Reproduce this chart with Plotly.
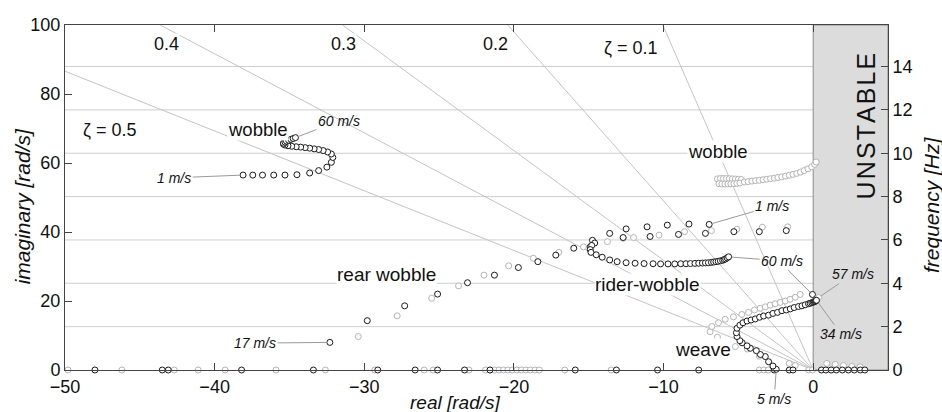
import math
import plotly.graph_objects as go

# ---------------- data ----------------
zeta_values = [0.1, 0.2, 0.3, 0.4, 0.5]
zeta_labels = ["ζ = 0.1", "0.2", "0.3", "0.4", "ζ = 0.5"]
zeta_label_re = [-12.2, -21.2, -31.4, -43.2, -47.0]
zeta_label_im = [93.3, 94.5, 94.5, 94.5, 69.6]

freq_ticks_hz = [0, 2, 4, 6, 8, 10, 12, 14]
real_ticks = [-50, -40, -30, -20, -10, 0]
imag_ticks = [0, 20, 40, 60, 80, 100]

# wobble, configuration A (black), 1 m/s -> 60 m/s
wobble_a_re = [-38.1, -37.45, -36.8, -36.05, -35.3, -34.5, -33.65, -33.05, -32.5, -32.2, -32.1,
               -32.2, -32.45, -32.75, -33.05, -33.35, -33.65, -33.95, -34.25, -34.55, -34.85,
               -35.1, -35.3, -35.4, -35.4, -35.3, -35.2, -35.05, -34.9, -34.75, -34.6]
wobble_a_im = [56.5, 56.5, 56.5, 56.5, 56.5, 56.6, 57.1, 57.8, 58.8, 60.2, 61.6,
               62.6, 63.2, 63.6, 63.9, 64.1, 64.3, 64.45, 64.6, 64.7, 64.85,
               65.0, 65.2, 65.45, 65.75, 66.05, 66.35, 66.6, 66.85, 67.1, 67.35]

# wobble, configuration B (grey)
wobble_b_re = [-6.4, -6.2, -6.0, -5.8, -5.6, -5.4, -5.2, -5.0, -4.8,
               -6.3, -6.1, -5.9, -5.7, -5.5, -5.3, -5.1, -4.9,
               -4.6, -4.35, -4.1, -3.85, -3.6, -3.35, -3.1, -2.85, -2.6, -2.35, -2.1, -1.85,
               -1.6, -1.35, -1.1, -0.85, -0.6, -0.35, -0.1, 0.1, 0.2]
wobble_b_im = [55.4, 55.5, 55.5, 55.5, 55.45, 55.4, 55.35, 55.3, 55.2,
               54.0, 53.9, 53.9, 53.9, 53.95, 54.0, 54.1, 54.2,
               54.5, 54.6, 54.75, 54.9, 55.0, 55.15, 55.3, 55.45, 55.6, 55.8, 56.0, 56.2,
               56.45, 56.7, 57.0, 57.35, 57.8, 58.3, 58.9, 59.6, 60.3]

# rear wobble / low-speed modes, configuration A (black)
mid_a_re = [-32.3, -29.8, -27.3, -25.1, -23.1, -21.3, -19.7, -18.4, -17.2, -16.0,
            -14.9, -14.75, -14.6, -14.8, -14.9, -13.6, -12.5, -11.1, -9.75, -8.3, -6.95,
            -12.7, -10.9, -9.0, -7.2, -5.3, -3.6, -1.8, -0.05]
mid_a_im = [8.0, 14.3, 18.6, 22.0, 25.3, 27.5, 29.7, 31.4, 33.3, 35.3,
            35.7, 37.6, 36.8, 36.1, 34.9, 39.6, 40.9, 41.5, 42.0, 42.3, 42.2,
            38.4, 38.7, 39.3, 39.6, 40.1, 40.1, 40.4, 21.9]

# rear wobble / low-speed modes, configuration B (grey)
mid_b_re = [-30.4, -27.8, -25.5, -23.7, -22.0, -20.35, -18.7, -17.0, -15.35, -13.75,
            -12.7, -12.0, -10.3, -8.6, -6.8, -5.1, -3.4, -1.7, 0.36]
mid_b_im = [9.7, 15.7, 20.8, 24.4, 27.5, 30.2, 32.4, 34.1, 35.7, 37.2,
            38.2, 38.4, 39.1, 40.1, 40.4, 40.8, 41.4, 41.5, 21.0]

# rider-wobble, configuration A (black), ends at 60 m/s
rider_a_re = [-14.85, -14.5, -14.1, -13.6, -13.1, -12.5, -11.9, -11.3, -10.7, -10.2, -9.7,
              -9.25, -8.85, -8.5, -8.2, -7.9, -7.65, -7.4, -7.2, -7.0, -6.8, -6.65, -6.5,
              -6.35, -6.2, -6.05, -5.95, -5.85, -5.75, -5.65]
rider_a_im = [34.1, 33.4, 32.7, 31.9, 31.4, 31.1, 30.95, 30.85, 30.8, 30.75, 30.75,
              30.75, 30.8, 30.8, 30.85, 30.9, 30.95, 31.0, 31.05, 31.1, 31.2, 31.3, 31.4,
              31.5, 31.65, 31.8, 32.0, 32.2, 32.5, 32.8]

# weave, configuration A (black), 5 m/s -> 34 m/s
weave_a_re = [-2.47, -2.69, -2.98, -3.2, -3.53, -3.8, -4.2, -4.42, -4.75, -4.9, -5.09, -5.13,
              -5.09, -4.9, -4.69, -4.42, -4.15, -3.87, -3.58, -3.31, -2.98, -2.69, -2.38,
              -2.09, -1.8, -1.53, -1.27, -0.98, -0.75, -0.53, -0.31, -0.2, -0.09, 0.0,
              0.07, 0.12, 0.16, 0.2, 0.22]
weave_a_im = [0.2, 1.16, 2.4, 3.9, 4.5, 5.6, 6.3, 7.0, 7.9, 8.5, 9.7, 10.8,
              12.1, 13.0, 13.7, 14.2, 14.5, 14.8, 15.3, 15.65, 15.9, 16.4, 16.7,
              17.2, 17.4, 17.7, 18.1, 18.4, 18.6, 18.9, 19.2, 19.35, 19.5, 19.65,
              19.8, 19.9, 20.0, 20.1, 20.2]

# weave, configuration B (grey)
weave_b_re = [-6.89, -6.77, -6.33, -5.88, -5.33, -4.77, -4.32, -3.92, -3.54, -3.2, -2.87,
              -2.54, -2.2, -1.87, -1.54, -1.2, -0.87,
              -6.4, -5.2, -4.4, -3.6, -1.6, -1.2, 0.91, 1.47, 2.02, 2.58, 3.13]
weave_b_im = [11.1, 12.6, 13.7, 14.7, 15.4, 16.1, 16.7, 17.4, 17.9, 18.3, 18.8,
              19.2, 19.6, 20.0, 20.5, 21.1, 21.9,
              9.5, 6.8, 6.1, 4.0, 1.9, 1.3, 1.9, 1.6, 1.3, 1.0, 0.9]

# real eigenvalues (imaginary part zero)
axis_a_re = [-48.0, -43.5, -43.1, -38.2, -33.4, -29.1, -26.6, -25.1, -23.3, -21.6, -15.9,
             -13.15, -10.4, -7.65, -2.6, -1.6, -1.35, 0.55, 0.85, 1.2, 1.55, 1.95, 2.35,
             2.75, 3.15, 3.45]
axis_b_re = [-49.8, -46.2, -42.7, -41.1, -39.3, -35.9, -32.6, -29.3, -26.0, -25.4, -23.0,
             -21.9, -21.6, -21.3, -21.0, -20.7, -20.4, -20.1, -19.8, -19.5, -19.2, -18.9,
             -18.6, -18.3, -16.6, -13.5, -3.6, -3.3, -3.0, -0.3, -0.05]

# ---------------- styling ----------------
FONT = "Liberation Sans, Arial, sans-serif"
BLACK = "#1a1a1a"
GREY_MK = "#b4b4b4"
LINE_GREY = "#c4c4c4"
LEADER = "#9a9a9a"
AXIS = "#444444"
X_MIN, X_MAX, Y_MIN, Y_MAX = -50, 5, 0, 100

fig = go.Figure()

# constant damping ratio lines from the origin to the frame
for z in zeta_values:
    s = math.sqrt(1 - z * z) / z
    if -X_MIN * s <= Y_MAX:
        xe, ye = X_MIN, -X_MIN * s
    else:
        xe, ye = -Y_MAX / s, Y_MAX
    fig.add_trace(go.Scatter(x=[0, xe], y=[0, ye], mode="lines",
                             line=dict(color=LINE_GREY, width=1),
                             hoverinfo="skip", showlegend=False))

# second leader of the right-hand "60 m/s" label (label edge -> weave end point)
fig.add_trace(go.Scatter(x=[-1.7, mid_a_re[-1]], y=[29.0, mid_a_im[-1]], mode="lines",
                         line=dict(color=LEADER, width=1), hoverinfo="skip", showlegend=False))


def markers(xs, ys, color):
    fig.add_trace(go.Scatter(
        x=xs, y=ys, mode="markers",
        marker=dict(symbol="circle", size=6, color="white",
                    line=dict(color=color, width=1)),
        hoverinfo="skip", showlegend=False, cliponaxis=False))


markers(axis_b_re, [0] * len(axis_b_re), GREY_MK)
markers(mid_b_re, mid_b_im, GREY_MK)
markers(wobble_b_re, wobble_b_im, GREY_MK)
markers(weave_b_re, weave_b_im, GREY_MK)
markers(axis_a_re, [0] * len(axis_a_re), BLACK)
markers(mid_a_re, mid_a_im, BLACK)
markers(wobble_a_re, wobble_a_im, BLACK)
markers(rider_a_re, rider_a_im, BLACK)
markers(weave_a_re, weave_a_im, BLACK)

# invisible trace to carry the frequency axis
fig.add_trace(go.Scatter(x=[X_MIN], y=[0], yaxis="y2", mode="markers",
                         marker=dict(opacity=0), hoverinfo="skip", showlegend=False))

shapes = []
for hz in freq_ticks_hz[1:]:
    shapes.append(dict(type="line", xref="paper", yref="y2", x0=0, x1=1, y0=hz, y1=hz,
                       line=dict(color="#cfcfcf", width=1), layer="below"))
shapes.append(dict(type="rect", xref="x", yref="paper", x0=0, x1=X_MAX, y0=0, y1=1,
                   fillcolor="#dcdcdc", line=dict(color="#8a8a8a", width=1), layer="below"))

ann = []


def text(t, x, y, size=18, italic=False, bg=None, angle=0, xref="x", yref="y"):
    ann.append(dict(text=f"<i>{t}</i>" if italic else t, x=x, y=y, xref=xref, yref=yref,
                    showarrow=False, xanchor="center", yanchor="middle", textangle=angle,
                    font=dict(family=FONT, size=size, color="#111111"),
                    bgcolor=bg, borderpad=0))


def leader(t, tx, ty, px, py, size=14):
    ann.append(dict(text=f"<i>{t}</i>", x=px, y=py, xref="x", yref="y",
                    ax=tx, ay=ty, axref="x", ayref="y", showarrow=True, arrowhead=0,
                    arrowwidth=1, arrowcolor=LEADER, standoff=3,
                    font=dict(family=FONT, size=size, color="#111111")))


for lab, lx, ly in zip(zeta_labels, zeta_label_re, zeta_label_im):
    text(lab, lx, ly, size=18, bg="white")

text("wobble", -37.1, 69.6, size=18.5, bg="white")
text("wobble", -6.35, 63.2, size=18.5, bg="white")
text("rear wobble", -28.5, 27.8, size=19, bg="white")
text("rider-wobble", -11.1, 24.9, size=19, bg="white")
text("weave", -7.35, 5.8, size=19, bg="white")
text("U\u200aN\u200aS\u200aT\u200aA\u200aB\u200aL\u200aE", 3.55, 70.7, size=25, angle=-90)

leader("60 m/s", -31.7, 72.2, wobble_a_re[-1], wobble_a_im[-1])
leader("1 m/s", -42.7, 55.7, wobble_a_re[0], wobble_a_im[0])
leader("17 m/s", -37.3, 7.8, mid_a_re[0], mid_a_im[0])
leader("1 m/s", -2.74, 47.5, mid_a_re[20], mid_a_im[20])
leader("60 m/s", -2.07, 31.6, rider_a_re[-1], rider_a_im[-1])
leader("57 m/s", 2.67, 27.8, mid_b_re[-1], mid_b_im[-1])
leader("34 m/s", 1.87, 10.4, weave_a_re[-1], weave_a_im[-1])
leader("5 m/s", -2.6, -8.4, weave_a_re[0], weave_a_im[0])

# axis titles
text("imaginary [rad/s]", -0.052, 0.475, size=21, italic=True, angle=-90, xref="paper", yref="paper")
text("frequency [Hz]", 1.053, 0.48, size=21, italic=True, angle=-90, xref="paper", yref="paper")
text("real [rad/s]", 0.474, -0.095, size=19, italic=True, xref="paper", yref="paper")

axis_common = dict(showline=True, linecolor=AXIS, linewidth=1, ticks="inside", ticklen=7,
                   tickcolor=AXIS, tickwidth=1, showgrid=False, zeroline=False,
                   tickfont=dict(family=FONT, size=18, color="#111111"))

fig.update_layout(
    width=942, height=412,
    margin=dict(l=65, r=54, t=25, b=42),
    paper_bgcolor="white", plot_bgcolor="white",
    showlegend=False,
    shapes=shapes, annotations=ann,
    xaxis=dict(range=[X_MIN, X_MAX], tickvals=real_ticks, mirror="ticks", **axis_common),
    yaxis=dict(range=[Y_MIN, Y_MAX], tickvals=imag_ticks, **axis_common),
    yaxis2=dict(range=[Y_MIN, Y_MAX / (2 * math.pi)], tickvals=freq_ticks_hz,
                overlaying="y", side="right", **axis_common),
)

fig.write_html("out.html")
